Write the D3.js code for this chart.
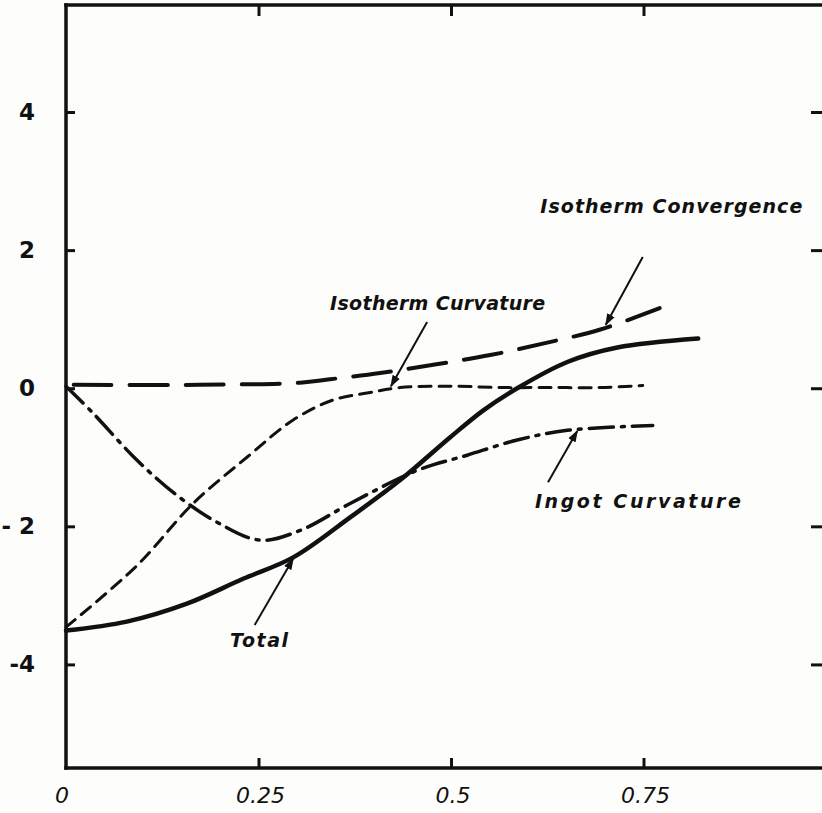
<!DOCTYPE html>
<html>
<head>
<meta charset="utf-8">
<script src="https://cdn.jsdelivr.net/npm/d3@7"></script>
<style>
  html, body { margin: 0; padding: 0; background: #fdfdfb; }
  svg { display: block; }
  text { fill: #111; }
</style>
</head>
<body>
<div id="chart"></div>
<script>
// values
const xTicks = [0.25, 0.5, 0.75];
const xTickLabels = ['0', '0.25', '0.5', '0.75'];
const yTicks = [-4, -2, 0, 2, 4];
const yTickLabels = ['-4', '- 2', '0', '2', '4'];

const totalX = [0, 0.079, 0.157, 0.230, 0.295, 0.369, 0.434, 0.499, 0.542, 0.586, 0.651, 0.716, 0.821];
const totalY = [-3.51, -3.38, -3.12, -2.76, -2.45, -1.87, -1.33, -0.71, -0.32, 0.0, 0.38, 0.59, 0.72];

const isoCurvX = [0, 0.092, 0.165, 0.235, 0.295, 0.347, 0.391, 0.434, 0.499, 0.564, 0.629, 0.694, 0.749];
const isoCurvY = [-3.46, -2.57, -1.67, -1.0, -0.46, -0.17, -0.07, 0.01, 0.03, 0.01, 0.01, 0.01, 0.04];

const ingotX = [0, 0.035, 0.092, 0.144, 0.196, 0.252, 0.304, 0.369, 0.456, 0.521, 0.586, 0.651, 0.762];
const ingotY = [0.03, -0.36, -1.04, -1.55, -1.94, -2.2, -2.06, -1.67, -1.19, -0.97, -0.75, -0.61, -0.54];

const convX = [0.01, 0.174, 0.304, 0.343, 0.408, 0.477, 0.551, 0.625, 0.694, 0.752, 0.771];
const convY = [0.05, 0.05, 0.08, 0.13, 0.22, 0.34, 0.48, 0.66, 0.85, 1.08, 1.16];

const labels = ['Isotherm Convergence', 'Isotherm Curvature', 'Ingot Curvature', 'Total'];

const width = 822;
const height = 813;

const x = d3.scaleLinear().domain([0, 1]).range([66, 836]);
const y = d3.scaleLinear().domain([-5.5, 5.55]).range([768, 5]);

const svg = d3.select('#chart')
  .append('svg')
  .attr('width', width)
  .attr('height', height);

// frame
const frame = svg.append('g')
  .attr('fill', 'none')
  .attr('stroke', '#111')
  .attr('stroke-width', 3.5)
  .attr('stroke-linecap', 'square');

frame.append('line').attr('x1', x(0)).attr('x2', x(0)).attr('y1', y.range()[1]).attr('y2', y.range()[0]);
frame.append('line').attr('x1', x(0)).attr('x2', x(1)).attr('y1', y.range()[1]).attr('y2', y.range()[1]);
frame.append('line').attr('x1', x(0)).attr('x2', x(1)).attr('y1', y.range()[0]).attr('y2', y.range()[0]);
frame.append('line').attr('x1', x(1)).attr('x2', x(1)).attr('y1', y.range()[1]).attr('y2', y.range()[0]);

// inward ticks using d3 axes
const bottomAxis = d3.axisTop(x).tickValues(xTicks).tickSize(10).tickFormat('');
const topAxis = d3.axisBottom(x).tickValues(xTicks).tickSize(11).tickFormat('');
const leftAxis = d3.axisRight(y).tickValues(yTicks).tickSize(9).tickFormat('');
const rightAxis = d3.axisLeft(y).tickValues(yTicks).tickSize(11).tickFormat('');

function styleAxis(g) {
  g.select('.domain').remove();
  g.selectAll('.tick line').attr('stroke', '#111').attr('stroke-width', 3);
}

svg.append('g').attr('transform', `translate(0,${y.range()[0]})`).call(bottomAxis).call(styleAxis);
svg.append('g').attr('transform', `translate(0,${y.range()[1]})`).call(topAxis).call(styleAxis);
svg.append('g').attr('transform', `translate(${x(0)},0)`).call(leftAxis).call(styleAxis);
svg.append('g').attr('transform', `translate(${x(1) - 14},0)`).call(rightAxis).call(styleAxis);

// tick labels
svg.selectAll('.xlab')
  .data([0].concat(xTicks))
  .enter()
  .append('text')
  .attr('class', 'xlab')
  .attr('x', (d) => x(d) - (d === 0 ? 4 : -2))
  .attr('y', 803)
  .attr('text-anchor', 'middle')
  .attr('font-family', 'DejaVu Sans, sans-serif')
  .attr('font-style', 'italic')
  .attr('font-size', 22)
  .text((d, i) => xTickLabels[i]);

svg.selectAll('.ylab')
  .data(yTicks)
  .enter()
  .append('text')
  .attr('class', 'ylab')
  .attr('x', 35)
  .attr('y', (d) => y(d) + 8)
  .attr('text-anchor', 'end')
  .attr('font-family', 'DejaVu Sans, sans-serif')
  .attr('font-weight', 'bold')
  .attr('font-size', 23)
  .text((d, i) => yTickLabels[i]);

// curves
const line = d3.line()
  .x((d) => x(d[0]))
  .y((d) => y(d[1]))
  .curve(d3.curveCatmullRom.alpha(0.5));

const series = [
  { xs: convX, ys: convY, dash: '38,18', w: 4 },
  { xs: isoCurvX, ys: isoCurvY, dash: '12,8', w: 3 },
  { xs: ingotX, ys: ingotY, dash: '24,8,3,8', w: 3.5 },
  { xs: totalX, ys: totalY, dash: null, w: 4.5 }
];

svg.selectAll('.curve')
  .data(series)
  .enter()
  .append('path')
  .attr('class', 'curve')
  .attr('d', (s) => line(s.xs.map((v, i) => [v, s.ys[i]])))
  .attr('fill', 'none')
  .attr('stroke', '#111')
  .attr('stroke-width', (s) => s.w)
  .attr('stroke-dasharray', (s) => s.dash)
  .attr('stroke-linecap', 'round');

// annotations (label anchor + leader arrow, in data units)
const notes = [
  { text: labels[0], tx: 0.616, ty: 2.54, len: 262, from: [0.749, 1.90], to: [0.701, 0.92] },
  { text: labels[1], tx: 0.343, ty: 1.13, len: 215, from: [0.469, 0.96], to: [0.422, 0.03] },
  { text: labels[2], tx: 0.609, ty: -1.74, len: 206, from: [0.626, -1.36], to: [0.664, -0.62] },
  { text: labels[3], tx: 0.213, ty: -3.75, len: 58, from: [0.245, -3.43], to: [0.295, -2.47] }
];

svg.append('defs')
  .append('marker')
  .attr('id', 'head')
  .attr('viewBox', '0 0 10 10')
  .attr('refX', 9)
  .attr('refY', 5)
  .attr('markerWidth', 12)
  .attr('markerHeight', 12)
  .attr('markerUnits', 'userSpaceOnUse')
  .attr('orient', 'auto')
  .append('path')
  .attr('d', 'M0,1.5L10,5L0,8.5Z')
  .attr('fill', '#111');

const ann = svg.selectAll('.note').data(notes).enter().append('g').attr('class', 'note');

ann.append('line')
  .attr('x1', (d) => x(d.from[0]))
  .attr('y1', (d) => y(d.from[1]))
  .attr('x2', (d) => x(d.to[0]))
  .attr('y2', (d) => y(d.to[1]))
  .attr('stroke', '#111')
  .attr('stroke-width', 2)
  .attr('marker-end', 'url(#head)');

ann.append('text')
  .attr('x', (d) => x(d.tx))
  .attr('y', (d) => y(d.ty))
  .attr('font-family', 'DejaVu Sans, sans-serif')
  .attr('font-style', 'italic')
  .attr('font-weight', 'bold')
  .attr('font-size', 19)
  .attr('textLength', (d) => d.len)
  .attr('lengthAdjust', 'spacing')
  .text((d) => d.text);
</script>
</body>
</html>
